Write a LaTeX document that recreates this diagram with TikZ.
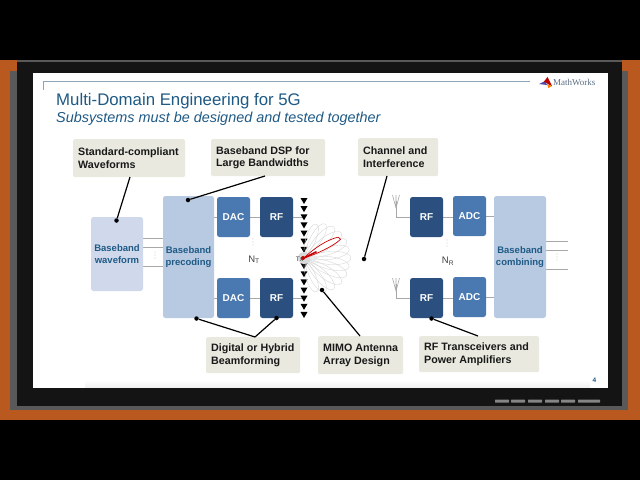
\documentclass[tikz,border=0pt]{standalone}
\usepackage{fontspec}
\setmainfont{Liberation Sans}
\newfontfamily\logofont{Liberation Serif}
\definecolor{ink}{HTML}{1F5A85}
\definecolor{call}{HTML}{E9E9E0}
\definecolor{pale}{HTML}{D0D9EC}
\definecolor{mid}{HTML}{B8CAE2}
\definecolor{dacc}{HTML}{4A78B0}
\definecolor{rfc}{HTML}{2B5080}
\definecolor{wood}{HTML}{B9591F}
\definecolor{wire}{HTML}{A8A8A8}
\definecolor{rulec}{HTML}{8FA5B5}
\definecolor{logotext}{HTML}{5A6E85}
\pgfdeclarelayer{back}
\pgfdeclarelayer{wires}
\pgfsetlayers{back,wires,main}
\tikzset{
  x=1pt,y=-1pt,
  block/.style={rounded corners=2.5pt,minimum width=#1,inner sep=0pt,text=ink,align=center,
    font=\fontsize{9.5}{11.6}\selectfont\bfseries},
  callout/.style={fill=call,rounded corners=1.5pt,anchor=north west,align=flush left,inner xsep=5pt,inner ysep=0pt,
    text width=#1,font=\fontsize{10.7}{12.8}\selectfont\bfseries,text=black!90},
  unit/.style={rounded corners=2.5pt,text=white,inner sep=0pt,minimum width=33pt,minimum height=40pt,
    font=\fontsize{10}{11}\selectfont\bfseries},
  wiring/.style={draw=wire,line width=1pt},
  lead/.style={draw=black,line width=1.2pt},
  endpoint/.style={circle,fill=black,inner sep=0pt,minimum size=4.5pt},
  lobe/.style={draw=black!17,line width=.35pt},
  small/.style={font=\fontsize{9.5}{11}\selectfont,text=black!75,inner sep=0pt},
  bar/.style={fill=black!48,rounded corners=.5pt},
}
\newcommand{\threedots}[2]{\foreach \k in {-3,0,3} \fill[black!50] (#1,{#2+\k}) circle (.45);}
\begin{document}
\begin{tikzpicture}
\useasboundingbox (0,0) rectangle (640,480);
\begin{pgfonlayer}{back}
\fill[black] (0,0) rectangle (640,480);
\fill[wood] (0,60) rectangle (640,420);
\fill[black!65] (10,71) rectangle (628,410);
\fill[black!92] (17,60) rectangle (622,406);
\fill[black!65] (17,60) rectangle (622,61.5);
\fill[white] (33,73) rectangle (608,388);
\shade[top color=white,bottom color=black!6] (85,380) rectangle (590,387.5);
\foreach \a/\b in {495/509,511/525,528/542,545/559,561/575,578/600}
  \fill[bar] (\a,399.5) rectangle (\b,402.5);
\end{pgfonlayer}
% header
\draw[draw=rulec,line width=.8pt] (43.5,90) -- (43.5,81.5) -- (530,81.5);
\node[anchor=base west,inner sep=0pt,text=ink,font=\fontsize{16.8}{20}\selectfont] (title) at (56,105) {Multi-Domain Engineering for 5G};
\node[anchor=base west,inner sep=0pt,text=ink,font=\fontsize{14.4}{16}\selectfont\itshape] (subtitle) at (56,122) {Subsystems must be designed and tested together};
\fill[blue!50!black!70] (539,84) -- (545,81) -- (547,85) -- cycle;
\fill[red!75!black] (544,81.5) -- (547.5,77) -- (552,86) -- (548,84) -- cycle;
\fill[orange] (547,84) -- (552,86) -- (548.5,88) -- cycle;
\node[anchor=base west,inner sep=0pt,text=logotext,font=\logofont\fontsize{9}{9}\selectfont] (logo) at (553,85.5) {MathWorks};
\node[anchor=base east,inner sep=0pt,text=ink,font=\fontsize{6.5}{8}\selectfont\bfseries] (pagenum) at (596.5,382) {4};
% blocks
\node[block=52pt,fill=pale,minimum height=74pt] (wave) at (117,254) {Baseband\\waveform};
\node[block=51pt,fill=mid,minimum height=122pt] (prec) at (188.5,257) {Baseband\\precoding};
\node[block=52pt,fill=mid,minimum height=122pt] (comb) at (520,257) {Baseband\\combining};
\node[unit,fill=dacc] (dac1) at (233.5,217) {DAC};
\node[unit,fill=dacc] (dac2) at (233.5,298) {DAC};
\node[unit,fill=rfc] (rf1) at (276.5,217) {RF};
\node[unit,fill=rfc] (rf2) at (276.5,298) {RF};
\node[unit,fill=rfc] (rf3) at (426.5,217) {RF};
\node[unit,fill=rfc] (rf4) at (426.5,298) {RF};
\node[unit,fill=dacc] (adc1) at (469.5,216) {ADC};
\node[unit,fill=dacc] (adc2) at (469.5,297) {ADC};
% wires
\begin{pgfonlayer}{wires}
\foreach \y in {238,247,266} \draw[wiring] (wave.east |- 0,\y) -- (prec.west |- 0,\y);
\foreach \y/\k in {241.5/a,250/b,269/c}{
  \coordinate (out\k) at (568,\y);
  \draw[wiring] (comb.east |- out\k) -- (out\k);
}
\coordinate (tx1) at (304,217); \coordinate (tx2) at (304,298);
\draw[wiring] (prec.east |- dac1) -- (dac1) -- (rf1) -- (tx1);
\draw[wiring] (prec.east |- dac2) -- (dac2) -- (rf2) -- (tx2);
\draw[wiring] (rf3) -- (adc1 |- rf3);
\draw[wiring] (rf4) -- (adc2 |- rf4);
\draw[wiring] (adc1) -- (comb.west |- adc1);
\draw[wiring] (adc2) -- (comb.west |- adc2);
\foreach \n/\y/\t in {rf3/217/195,rf4/298/278}{
  \coordinate (ant\n) at (396,\y);
  \draw[wiring] (\n) -- (ant\n) -- (396,{\t+6});
  \draw[wiring,line width=.6pt] (392.5,\t) -- (396,{\t+13}) -- (399.5,\t) (396,\t) -- (396,{\t+13});
}
\end{pgfonlayer}
% array
\foreach \i in {0,...,14}
  \fill[black] ({300.5},{198+8.14*\i}) -- ({307.5},{198+8.14*\i}) -- (304,{204+8.14*\i}) -- cycle;
\begin{scope}[shift={(304,258)}]
  \foreach \a/\r in {-70/36,-58/40,-46/43,-34/45,-22/46,-11/46,0/47,11/46,22/46,34/45,46/43,58/40,70/36}
    \draw[lobe,rotate=\a] (0,0) .. controls (.5*\r,-.22*\r) and (\r,-.15*\r) .. (\r,0) .. controls (\r,.15*\r) and (.5*\r,.22*\r) .. (0,0);
  \fill[black!15] (0,0) circle (6);
  \draw[draw=red!80!black,line width=.7pt,fill=white,rotate=27] (0,0) .. controls (12,-4) and (30,-6) .. (40,-3) -- (41,0) .. controls (30,3) and (12,2) .. (0,0);
  \draw[draw=red!80!black,line width=1.6pt,rotate=27] (0,0) -- (14,0);
  \fill[red!80!black] (-1,0) circle (2);
\end{scope}
\node[small,font=\fontsize{6.5}{8}\selectfont] (txl) at (299.5,259) {Tx};
\node[small] (nt) at (254,259.5) {N\textsubscript{T}};
\node[small] (nr) at (448,261) {N\textsubscript{R}};
\threedots{253}{242}
\threedots{447}{243}
\threedots{155}{255}
\threedots{557}{257}
% callouts
\node[callout=102pt,minimum height=38pt] (c1) at (73,139) {Standard-compliant\\Waveforms};
\node[callout=104pt,minimum height=37pt] (c2) at (211,139) {Baseband DSP for\\Large Bandwidths};
\node[callout=70pt,minimum height=38pt] (c3) at (358,138) {Channel and\\Interference};
\node[callout=84pt,minimum height=36pt] (c4) at (206,337) {\mbox{Digital or Hybrid}\\Beamforming};
\node[callout=75pt,minimum height=38pt] (c5) at (318,336) {\mbox{MIMO Antenna}\\Array Design};
\node[callout=110pt,minimum height=36pt] (c6) at (419,336) {\mbox{RF Transceivers and}\\Power Amplifiers};
% leaders
\node[endpoint] (e1) at (116.5,220.5) {};
\node[endpoint] (e2) at (188,200) {};
\node[endpoint] (e3) at (364,259) {};
\node[endpoint] (e4) at (196.5,318.5) {};
\node[endpoint] (e5) at (276.5,318) {};
\node[endpoint] (e6) at (322,290) {};
\node[endpoint] (e7) at (431.5,318.5) {};
\coordinate (s1) at (130,177); \coordinate (s2) at (265,176); \coordinate (s3) at (387,176);
\coordinate (s4) at (255,337); \coordinate (s5) at (360,336); \coordinate (s6) at (478,336);
\draw[lead] (s1)--(e1) (s2)--(e2) (s3)--(e3) (s4)--(e4) (s4)--(e5) (s5)--(e6) (s6)--(e7);
\end{tikzpicture}
\end{document}
